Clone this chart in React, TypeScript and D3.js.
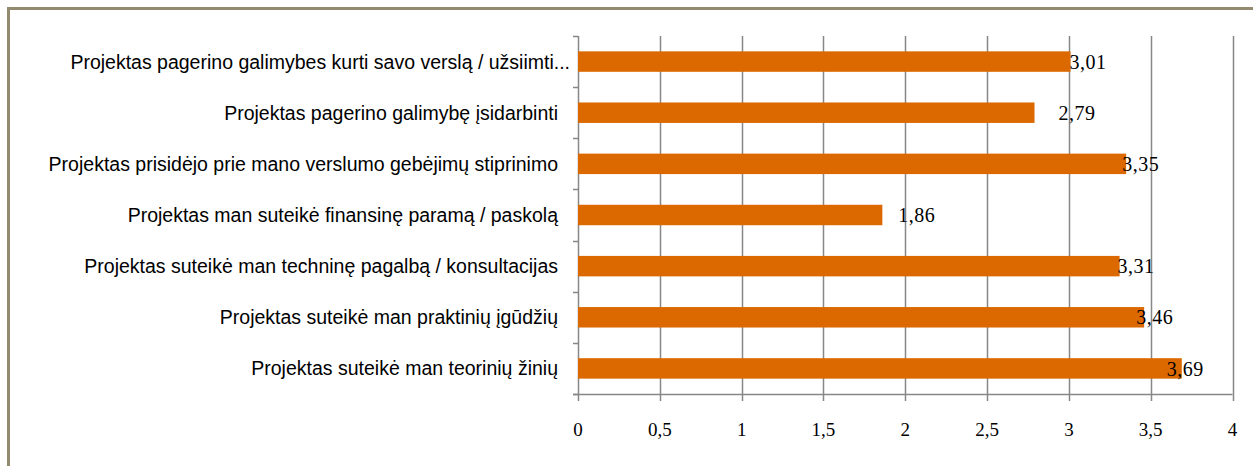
import React, { useRef, useEffect } from "react";
import * as d3 from "d3";

const categories = [
  "Projektas pagerino galimybes kurti savo verslą / užsiimti...",
  "Projektas pagerino galimybę įsidarbinti",
  "Projektas prisidėjo prie mano verslumo gebėjimų stiprinimo",
  "Projektas man suteikė finansinę paramą / paskolą",
  "Projektas suteikė man techninę pagalbą / konsultacijas",
  "Projektas suteikė man praktinių įgūdžių",
  "Projektas suteikė man teorinių žinių",
];
const values = [3.01, 2.79, 3.35, 1.86, 3.31, 3.46, 3.69];
const xTicks = [0, 0.5, 1, 1.5, 2, 2.5, 3, 3.5, 4];
// data labels were nudged by hand in the original, px from bar end
const labelShift = [-1, 24, -4, 16, -2, -8, -15];

const App = () => {
  const svgRef = useRef<SVGSVGElement>(null);

  useEffect(() => {
    const svg = d3.select(svgRef.current);
    svg.selectAll("*").remove();

    const width = 1253;
    const height = 466;
    const plot = { left: 578, right: 1232.5, top: 36, bottom: 394 };
    const fmt = (v: number) => String(v).replace(".", ",");

    // outer chart frame (runs off the right and bottom edges)
    svg
      .append("rect")
      .attr("x", 8.5)
      .attr("y", 8.5)
      .attr("width", width + 20)
      .attr("height", height + 20)
      .attr("fill", "#ffffff")
      .attr("stroke", "#948a6d")
      .attr("stroke-width", 3);

    const x = d3.scaleLinear().domain([0, 4]).range([plot.left, plot.right]);
    const y = d3
      .scaleBand()
      .domain(categories)
      .range([plot.top, plot.bottom])
      .paddingInner(0.6)
      .paddingOuter(0.3);

    // vertical gridlines
    svg
      .append("g")
      .selectAll("line")
      .data(xTicks)
      .join("line")
      .attr("x1", (d) => Math.round(x(d)) + 0.5)
      .attr("x2", (d) => Math.round(x(d)) + 0.5)
      .attr("y1", plot.top)
      .attr("y2", plot.bottom + 7)
      .attr("stroke", "#878787")
      .attr("stroke-width", 1.5);

    // bottom axis line
    svg
      .append("line")
      .attr("x1", plot.left - 5)
      .attr("x2", plot.right)
      .attr("y1", plot.bottom + 0.5)
      .attr("y2", plot.bottom + 0.5)
      .attr("stroke", "#878787")
      .attr("stroke-width", 1.5);

    // category tick marks
    const step = y.step();
    const bounds = d3.range(categories.length + 1).map((i) => plot.top + i * step);
    svg
      .append("g")
      .selectAll("line")
      .data(bounds)
      .join("line")
      .attr("x1", plot.left - 5)
      .attr("x2", plot.left)
      .attr("y1", (d) => Math.round(d) + 0.5)
      .attr("y2", (d) => Math.round(d) + 0.5)
      .attr("stroke", "#878787")
      .attr("stroke-width", 1.5);

    // bars
    svg
      .append("g")
      .selectAll("rect")
      .data(values)
      .join("rect")
      .attr("x", x(0))
      .attr("y", (d, i) => y(categories[i])!)
      .attr("width", (d) => x(d) - x(0))
      .attr("height", y.bandwidth())
      .attr("fill", "#db6900");

    // value labels
    svg
      .append("g")
      .selectAll("text")
      .data(values)
      .join("text")
      .attr("x", (d, i) => x(d) + labelShift[i])
      .attr("y", (d, i) => y(categories[i])! + y.bandwidth() / 2)
      .attr("dy", "0.36em")
      .attr("font-family", "'Liberation Serif', 'Times New Roman', serif")
      .attr("font-size", 20)
      .attr("letter-spacing", 0.5)
      .attr("fill", "#000")
      .text((d) => fmt(d));

    // category labels
    svg
      .append("g")
      .selectAll("text")
      .data(categories)
      .join("text")
      .attr("x", (d) => (d.endsWith("...") ? plot.left - 8 : plot.left - 20))
      .attr("y", (d) => y(d)! + y.bandwidth() / 2)
      .attr("dy", "0.36em")
      .attr("text-anchor", "end")
      .attr("font-family", "'Liberation Sans', Arial, sans-serif")
      .attr("font-size", 19.5)
      .attr("fill", "#000")
      .text((d) => d);

    // x tick labels
    svg
      .append("g")
      .selectAll("text")
      .data(xTicks)
      .join("text")
      .attr("x", (d) => x(d))
      .attr("y", 429)
      .attr("dy", "0.36em")
      .attr("text-anchor", "middle")
      .attr("font-family", "'Liberation Serif', 'Times New Roman', serif")
      .attr("font-size", 19)
      .attr("fill", "#000")
      .text((d) => fmt(d));
  }, []);

  return (
    <svg
      ref={svgRef}
      width={1253}
      height={466}
      style={{ position: "absolute", left: 0, top: 0, background: "#fff" }}
    ></svg>
  );
};

export default App;
